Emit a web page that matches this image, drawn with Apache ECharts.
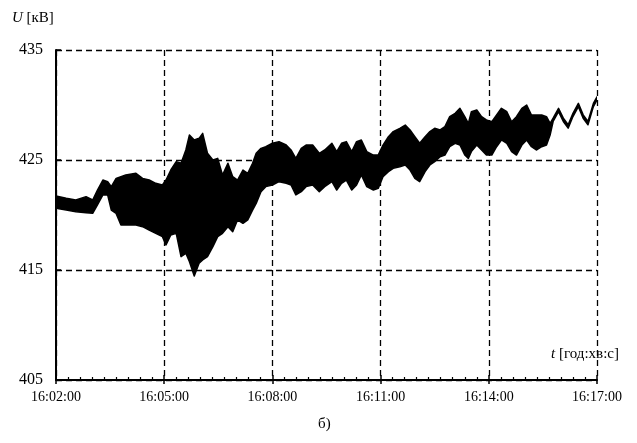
<!DOCTYPE html>
<html>
<head>
<meta charset="utf-8">
<script src="https://cdn.jsdelivr.net/npm/echarts@6/dist/echarts.min.js"></script>
<style>
html,body{margin:0;padding:0;background:#fff;}
#chart{width:637px;height:443px;}
</style>
</head>
<body>
<div id="chart"></div>
<script>
// seconds after 16:02:00
var timeSec = [0,17,33,50,61,69,78,86,92,100,108,116,133,144,155,166,177,183,191,200,208,216,222,230,238,244,252,261,269,277,286,294,302,311,319,327,333,341,349,360,371,383,391,399,408,416,427,438,447,459,467,475,483,492,500,508,517,528,536,544,553,561,572,581,589,597,605,614,622,630,639,647,655,664,672,680,686,691,700,708,716,725,733,741,750,758,766,775,783,791,799,808,816,822,827,836,844,852,860,869,877,885,894,900];
// upper envelope of the voltage band, kV
var upperKV = [421.73,421.52,421.36,421.67,421.36,422.27,423.18,423.03,422.58,423.33,423.48,423.64,423.79,423.33,423.18,422.88,422.73,423.18,424.09,424.85,424.70,425.91,427.27,426.82,426.97,427.42,425.61,425.00,425.15,423.64,424.70,423.48,423.18,424.09,423.79,424.70,425.61,426.06,426.21,426.52,426.67,426.36,425.91,425.15,426.06,426.36,426.36,425.61,425.91,426.52,425.76,426.52,426.67,425.76,426.67,426.82,425.76,425.45,425.45,426.36,427.12,427.58,427.88,428.18,427.73,427.12,426.52,427.12,427.58,427.88,427.73,428.03,428.94,429.24,429.70,428.94,428.33,429.39,429.55,428.94,428.64,428.48,429.09,429.70,429.39,428.48,428.94,429.70,430.00,429.09,429.09,429.09,428.94,428.33,428.80,429.70,428.80,428.20,429.25,430.15,429.10,428.50,430.15,430.75];
// lower envelope of the voltage band, kV
var lowerKV = [420.61,420.45,420.30,420.21,420.15,420.91,421.82,421.82,420.45,420.15,419.09,419.09,419.09,418.94,418.64,418.33,418.03,417.27,418.18,418.33,416.21,416.52,415.76,414.45,415.61,415.91,416.21,417.12,418.03,418.33,418.94,418.48,419.55,419.24,419.55,420.45,421.06,422.12,422.58,422.73,423.03,422.88,422.73,421.82,422.12,422.58,422.73,422.12,422.58,423.03,422.27,422.88,423.18,422.27,422.73,423.64,422.58,422.27,422.42,423.48,423.94,424.24,424.39,424.55,424.09,423.33,423.03,423.94,424.55,424.85,425.30,425.45,426.21,426.52,426.36,425.45,425.15,425.76,426.36,425.91,425.45,425.45,426.21,426.82,426.52,425.76,425.45,426.36,426.82,426.21,425.91,426.21,426.36,427.27,428.50,429.40,428.50,427.90,428.95,429.85,428.80,428.20,429.85,430.45];
var yTicks = [405,415,425,435];
var xTickLabels = ['16:02:00','16:05:00','16:08:00','16:11:00','16:14:00','16:17:00'];

var bandData = timeSec.map(function(t,i){return [t, lowerKV[i], upperKV[i]];});

// the whole band is one polygon: upper edge forward, lower edge back, via the axis scales
function renderBand(params, api) {
  if (params.dataIndex !== 0) return null;
  var pts = [];
  for (var i = 0; i < timeSec.length; i++) pts.push(api.coord([timeSec[i], upperKV[i]]));
  for (var j = timeSec.length - 1; j >= 0; j--) pts.push(api.coord([timeSec[j], lowerKV[j]]));
  return {
    type:'polygon',
    shape:{points:pts},
    style:{fill:'#000', stroke:'#000', lineWidth:1.5, lineJoin:'round'}
  };
}

var FONT = 'Liberation Serif';
var chart = echarts.init(document.getElementById('chart'), null, {renderer:'canvas'});
var dashed = {show:true, lineStyle:{color:'#000', width:1.3, type:[6,4]}};
chart.setOption({
  animation:false,
  backgroundColor:'#fff',
  grid:{left:56, right:40, top:50, bottom:63, containLabel:false},
  xAxis:[{
    type:'value', min:0, max:900, interval:180,
    axisLine:{show:true, lineStyle:{color:'#000', width:2}},
    axisTick:{show:true, inside:true, length:5, lineStyle:{color:'#000', width:1.5}},
    minorTick:{show:true, splitNumber:9, length:3, lineStyle:{color:'#000', width:1.2}},
    splitLine:dashed,
    axisLabel:{color:'#000', fontFamily:FONT, fontSize:14, margin:10,
      formatter:function(v){return xTickLabels[Math.round(v/180)];}}
  },{
    type:'value', min:0, max:900, interval:180, position:'bottom',
    axisLine:{show:false},
    axisTick:{show:true, inside:false, length:4, lineStyle:{color:'#000', width:1.5}},
    axisLabel:{show:false}, splitLine:{show:false}
  }],
  yAxis:{
    type:'value', min:yTicks[0], max:yTicks[yTicks.length-1], interval:10,
    axisLine:{show:true, lineStyle:{color:'#000', width:2}},
    axisTick:{show:true, inside:true, length:5, lineStyle:{color:'#000', width:1.5}},
    splitLine:dashed,
    axisLabel:{color:'#000', fontFamily:FONT, fontSize:16, margin:13}
  },
  graphic:[
    {type:'text', left:12, top:11, style:{text:'{i|U} [кВ]', rich:{i:{fontStyle:'italic', fontFamily:FONT, fontSize:15, fill:'#000'}}, fontFamily:FONT, fontSize:15, fill:'#000'}},
    {type:'text', left:551, top:347, style:{text:'{i|t} [год:хв:с]', rich:{i:{fontStyle:'italic', fontFamily:FONT, fontSize:15, fill:'#000'}}, fontFamily:FONT, fontSize:15, fill:'#000'}},
    {type:'text', left:318, top:417, style:{text:'б)', fontFamily:FONT, fontSize:15, fill:'#000'}}
  ],
  series:[{
    type:'custom', data:bandData, renderItem:renderBand, xAxisIndex:0, yAxisIndex:0,
    encode:{x:0, y:[1,2]}, clip:true, z:3
  }]
});
</script>
</body>
</html>
